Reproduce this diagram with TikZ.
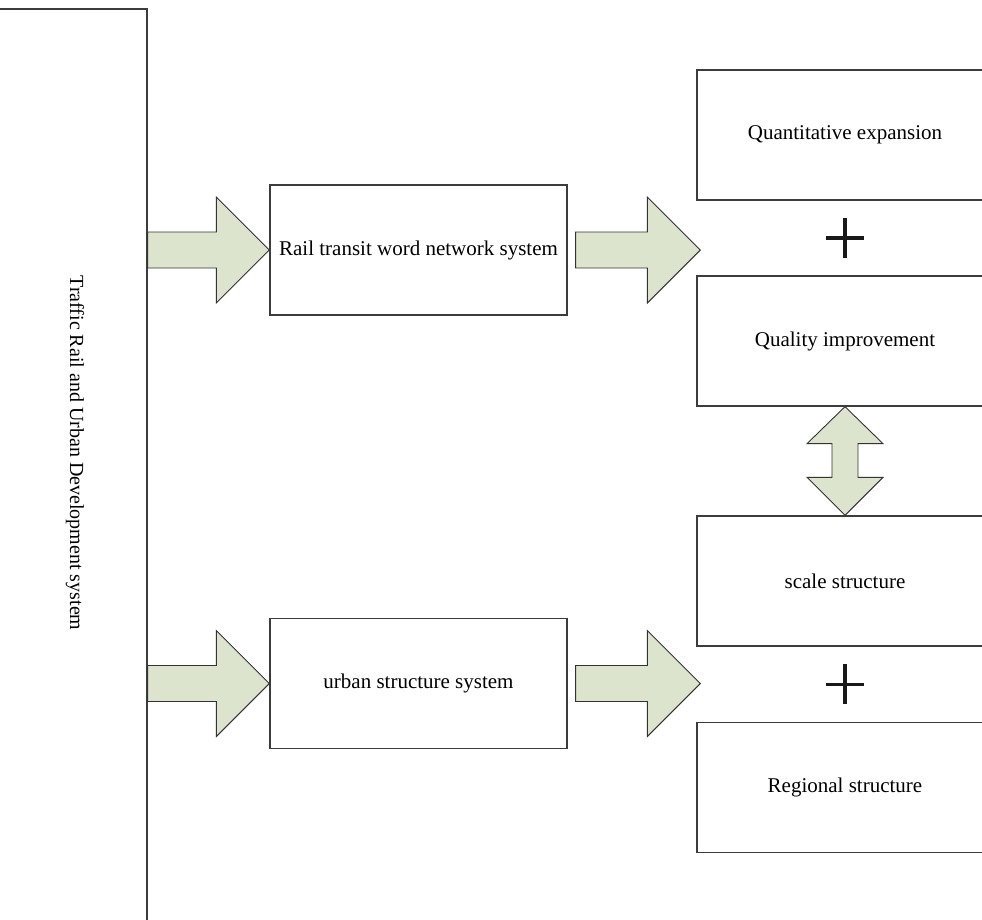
\documentclass[tikz,border=0pt]{standalone}
\usepackage{fontspec}
\setmainfont{Liberation Serif}
\usetikzlibrary{calc}

\definecolor{arrowfill}{RGB}{221,228,205}
\definecolor{boxline}{RGB}{60,60,60}

% fat horizontal arrow from #1 to the tip at #2
\newcommand{\fatarrow}[2]{%
  \draw[fat] let \p1=(#1), \p2=(#2) in
    (\x1,\y1+18pt) -- (\x2-53pt,\y1+18pt) -- (\x2-53pt,\y1+53pt) -- (\x2,\y1)
    -- (\x2-53pt,\y1-53pt) -- (\x2-53pt,\y1-18pt) -- (\x1,\y1-18pt) -- cycle;}

% fat vertical double arrow between the tips #1 (top) and #2 (bottom)
\newcommand{\twinarrow}[2]{%
  \draw[fat] let \p1=(#1), \p2=(#2) in
    (\x1,\y1) -- (\x1+38pt,\y1-37pt) -- (\x1+13pt,\y1-37pt) -- (\x1+13pt,\y2+38pt)
    -- (\x1+38pt,\y2+38pt) -- (\x1,\y2) -- (\x1-38pt,\y2+38pt) -- (\x1-13pt,\y2+38pt)
    -- (\x1-13pt,\y1-37pt) -- (\x1-38pt,\y1-37pt) -- cycle;}

% plus sign centred at #1
\newcommand{\plussign}[1]{%
  \draw[plus] ($(#1)+(-19,0)$) -- ($(#1)+(19,0)$)
              ($(#1)+(0,-20)$) -- ($(#1)+(0,20)$);}

\begin{document}
\begin{tikzpicture}[x=1pt, y=-1pt,
  box/.style={draw=boxline, line width=1.3pt, fill=white, inner sep=0pt,
    font=\fontsize{21}{25}\selectfont},
  midbox/.style={box, minimum width=297pt, minimum height=130pt},
  rightbox/.style={box, minimum width=296pt, minimum height=130pt},
  fat/.style={draw=black!80, line width=0.9pt, fill=arrowfill, line join=miter},
  plus/.style={line width=3.2pt, black!90}]

\useasboundingbox (0,0) rectangle (982,919);
\clip (0,0) rectangle (982,919);

% Left system box
\node[box, minimum width=149pt, minimum height=940pt] (sys) at (72.5,479) {};
\node[rotate=-90, font=\fontsize{20}{24}\selectfont] (systext) at (75,453)
  {Traffic Rail and Urban Development system};

% Middle boxes
\node[midbox] (rail) at (418.5,250) {Rail transit word network system};
\node[midbox] (urban) at (418.5,683.5) {urban structure system};

% Right boxes
\node[rightbox] (quant)    at (845,135)   {Quantitative expansion};
\node[rightbox] (quality)  at (845,341)   {Quality improvement};
\node[rightbox] (scale)    at (845,581)   {scale structure};
\node[rightbox] (regional) at (845,787.5) {Regional structure};

% Arrow ends
\coordinate (railout)  at ($(rail.east)+(8,0)$);
\coordinate (railin)   at ($(rail.east -| quant.west)+(4,0)$);
\coordinate (urbanout) at ($(urban.east)+(8,0)$);
\coordinate (urbanin)  at ($(urban.east -| scale.west)+(4,0)$);
\coordinate (plusA) at ($(quant.south)!0.5!(quality.north)$);
\coordinate (plusB) at ($(scale.south)!0.5!(regional.north)$);

% Arrows
\fatarrow{sys.east |- rail.west}{rail.west}
\fatarrow{railout}{railin}
\fatarrow{sys.east |- urban.west}{urban.west}
\fatarrow{urbanout}{urbanin}
\twinarrow{quality.south}{scale.north}

% Plus signs
\plussign{plusA}
\plussign{plusB}

\end{tikzpicture}
\end{document}
